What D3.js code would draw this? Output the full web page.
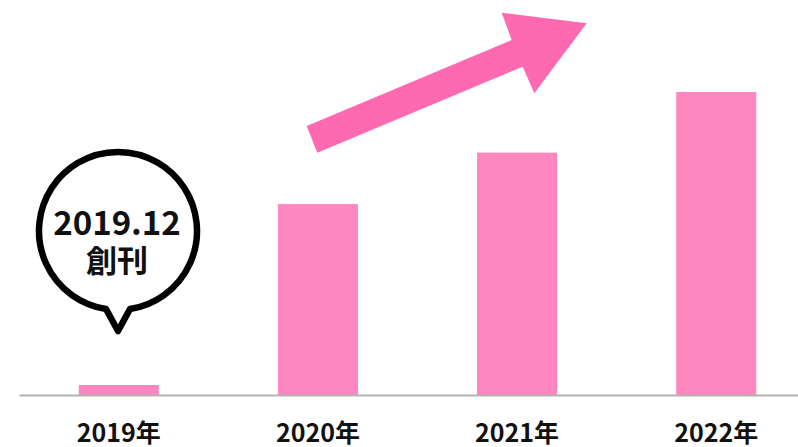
<!DOCTYPE html>
<html>
<head>
<meta charset="utf-8">
<script src="https://cdn.jsdelivr.net/npm/d3@7"></script>
<style>
  body { margin: 0; background: #fff; }
  text { font-family: "Noto Sans CJK JP", "Noto Sans", sans-serif; font-weight: 700; }
</style>
</head>
<body>
<div id="chart"></div>
<script>
// bar data (relative heights)
var years = ["2019年", "2020年", "2021年", "2022年"];
var values = [3.3, 63, 80, 100];

var svgWidth = 798;
var svgHeight = 447;
var baseY = 395;

var svg = d3.select("#chart")
  .append("svg")
  .attr("width", svgWidth)
  .attr("height", svgHeight);

var xBand = d3.scaleBand()
  .domain(years)
  .range([19, 816])
  .paddingInner(0.598)
  .paddingOuter(0.3);

var yLinear = d3.scaleLinear()
  .domain([0, 100])
  .range([baseY, 92]);

svg.selectAll(".bar")
  .data(values)
  .enter()
  .append("rect")
  .attr("class", "bar")
  .attr("x", (d, i) => xBand(years[i]))
  .attr("y", d => yLinear(d))
  .attr("width", xBand.bandwidth())
  .attr("height", d => baseY - yLinear(d))
  .attr("fill", "#fe87c0");

var xAxis = svg.append("g")
  .attr("transform", `translate(0, ${baseY})`)
  .call(d3.axisBottom(xBand).tickSize(0).tickSizeOuter(0));

xAxis.select(".domain")
  .attr("stroke", "#b3b3b3")
  .attr("stroke-width", 2);

xAxis.selectAll("text")
  .attr("y", 47)
  .attr("dy", null)
  .attr("fill", "#111")
  .attr("font-size", 25)
  .style("font-family", "'Noto Sans CJK JP', sans-serif")
  .style("font-weight", 700);

// trend arrow
var arrowPts = [
  [306.7, 126], [511.7, 40], [501.7, 12.7], [586.7, 23.3],
  [534.3, 93.3], [522.7, 66.7], [317.3, 152.7]
];
svg.append("path")
  .attr("d", d3.line()(arrowPts) + "Z")
  .attr("fill", "#ff69b0");

// speech bubble
var cx = 118, cy = 231, r = 79;
var bubble = svg.append("g");
bubble.append("path")
  .attr("d", `M130,${cy + 78} L118,331 L106,${cy + 78} A${r},${r} 0 1 1 130,${cy + 78} Z`)
  .attr("fill", "#fff")
  .attr("stroke", "#000")
  .attr("stroke-width", 6.5)
  .attr("stroke-linejoin", "round");

bubble.append("text")
  .attr("x", cx - 1)
  .attr("y", 235)
  .attr("text-anchor", "middle")
  .attr("font-size", 33)
  .attr("fill", "#111")
  .text("2019.12");

bubble.append("text")
  .attr("x", cx - 1)
  .attr("y", 272)
  .attr("text-anchor", "middle")
  .attr("font-size", 31)
  .attr("fill", "#111")
  .text("創刊");
</script>
</body>
</html>
